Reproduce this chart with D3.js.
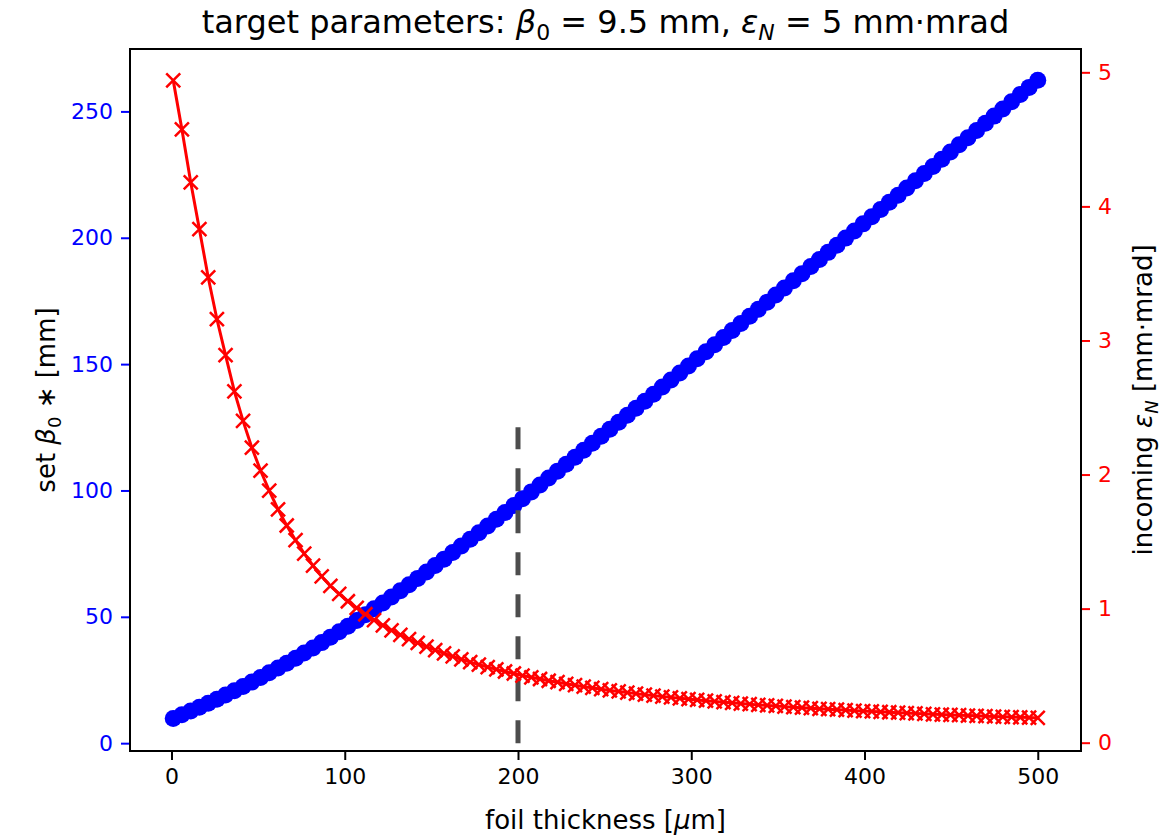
<!DOCTYPE html>
<html>
<head>
<meta charset="utf-8">
<script src="https://cdn.jsdelivr.net/npm/d3@7/dist/d3.min.js"></script>
<style>
  body { margin: 0; background: #fff; }
  svg text { font-family: "DejaVu Sans", sans-serif; }
</style>
</head>
<body>
<div id="chart"></div>
<script>
// foil thickness [um]
const thickness = [
  1.0, 6.0, 11.1, 16.1, 21.2, 26.2, 31.2, 36.3, 41.3, 46.4,
  51.4, 56.4, 61.5, 66.5, 71.6, 76.6, 81.7, 86.7, 91.7, 96.8,
  101.8, 106.9, 111.9, 116.9, 122.0, 127.0, 132.1, 137.1, 142.1, 147.2,
  152.2, 157.3, 162.3, 167.3, 172.4, 177.4, 182.5, 187.5, 192.5, 197.6,
  202.6, 207.7, 212.7, 217.7, 222.8, 227.8, 232.9, 237.9, 242.9, 248.0,
  253.0, 258.1, 263.1, 268.1, 273.2, 278.2, 283.3, 288.3, 293.4, 298.4,
  303.4, 308.5, 313.5, 318.6, 323.6, 328.6, 333.7, 338.7, 343.8, 348.8,
  353.8, 358.9, 363.9, 369.0, 374.0, 379.0, 384.1, 389.1, 394.2, 399.2,
  404.2, 409.3, 414.3, 419.4, 424.4, 429.4, 434.5, 439.5, 444.6, 449.6,
  454.6, 459.7, 464.7, 469.8, 474.8, 479.8, 484.9, 489.9, 495.0, 500.0
];

// set beta0* [mm]
const betaSet = [
  9.78, 11.22, 12.70, 14.22, 15.78, 17.39, 19.03, 20.71, 22.44, 24.20,
  26.01, 27.85, 29.74, 31.67, 33.64, 35.65, 37.70, 39.79, 41.92, 44.09,
  46.30, 48.55, 50.83, 53.15, 55.51, 57.86, 60.28, 62.73, 65.21, 67.73,
  70.27, 72.83, 75.42, 78.03, 80.65, 83.27, 85.93, 88.61, 91.30, 94.01,
  96.72, 99.44, 102.17, 104.91, 107.65, 110.40, 113.15, 115.91, 118.67, 121.44,
  124.21, 126.99, 129.76, 132.55, 135.33, 138.12, 140.90, 143.69, 146.49, 149.28,
  152.08, 154.88, 157.68, 160.49, 163.29, 166.10, 168.90, 171.71, 174.52, 177.33,
  180.14, 182.95, 185.77, 188.59, 191.40, 194.22, 197.04, 199.86, 202.68, 205.50,
  208.34, 211.18, 214.03, 216.87, 219.71, 222.55, 225.40, 228.24, 231.08, 233.92,
  236.77, 239.61, 242.45, 245.29, 248.14, 250.99, 253.83, 256.67, 259.51, 262.35
];

// incoming epsilon_N [mm mrad]
const emitIn = [
  4.940, 4.575, 4.180, 3.830, 3.470, 3.160, 2.890, 2.620, 2.400, 2.200,
  2.030, 1.880, 1.740, 1.620, 1.510, 1.410, 1.320, 1.240, 1.170, 1.110,
  1.055, 1.005, 0.958, 0.915, 0.875, 0.838, 0.805, 0.773, 0.744, 0.716,
  0.690, 0.666, 0.643, 0.622, 0.601, 0.582, 0.564, 0.547, 0.531, 0.516,
  0.501, 0.488, 0.475, 0.462, 0.451, 0.439, 0.429, 0.418, 0.409, 0.399,
  0.390, 0.382, 0.374, 0.366, 0.358, 0.351, 0.344, 0.338, 0.331, 0.325,
  0.319, 0.313, 0.308, 0.302, 0.297, 0.292, 0.287, 0.282, 0.278, 0.274,
  0.269, 0.265, 0.261, 0.257, 0.253, 0.250, 0.246, 0.243, 0.239, 0.236,
  0.233, 0.230, 0.227, 0.224, 0.221, 0.218, 0.215, 0.212, 0.210, 0.207,
  0.205, 0.202, 0.200, 0.198, 0.195, 0.193, 0.191, 0.189, 0.187, 0.185
];

const xTicks = [0, 100, 200, 300, 400, 500];
const betaTicks = [0, 50, 100, 150, 200, 250];
const emitTicks = [0, 1, 2, 3, 4, 5];

// chosen thickness marker (dashed line), in left-axis units
const cutThickness = 200;
const cutRange = [0, 125];

const width = 1170;
const height = 839;
const plot = { left: 130, right: 1081, top: 49, bottom: 751 };

const svg = d3.select('#chart')
  .append('svg')
  .attr('width', width)
  .attr('height', height);

// Scales
const x = d3.scaleLinear()
  .domain([-23.95, 524.95])
  .range([plot.left, plot.right]);

const yLeft = d3.scaleLinear()
  .domain([-3.1, 274.7])
  .range([plot.bottom, plot.top]);

const yRight = d3.scaleLinear()
  .domain([-0.062, 5.174])
  .range([plot.bottom, plot.top]);

const points = d3.zip(thickness, betaSet, emitIn);

// Blue beta markers
svg.append('g')
  .selectAll('circle')
  .data(points)
  .enter().append('circle')
  .attr('cx', d => x(d[0]))
  .attr('cy', d => yLeft(d[1]))
  .attr('r', 8.5)
  .attr('fill', '#0000ff');

// Dashed line at chosen thickness
svg.append('line')
  .attr('x1', x(cutThickness))
  .attr('x2', x(cutThickness))
  .attr('y1', yLeft(cutRange[0]))
  .attr('y2', yLeft(cutRange[1]))
  .attr('stroke', '#4d4d4d')
  .attr('stroke-width', 5)
  .attr('stroke-dasharray', '23,19');

// Red emittance line + x markers
const line = d3.line()
  .x(d => x(d[0]))
  .y(d => yRight(d[2]));

svg.append('path')
  .datum(points)
  .attr('d', line)
  .attr('fill', 'none')
  .attr('stroke', '#ff0000')
  .attr('stroke-width', 3);

svg.append('g')
  .selectAll('path')
  .data(points)
  .enter().append('path')
  .attr('transform', d => `translate(${x(d[0])},${yRight(d[2])})`)
  .attr('d', 'M-7,-7L7,7M-7,7L7,-7')
  .attr('fill', 'none')
  .attr('stroke', '#ff0000')
  .attr('stroke-width', 2.5);

// Axes
const tickFont = '22px';

const xAxis = svg.append('g')
  .attr('transform', `translate(0,${plot.bottom})`)
  .call(d3.axisBottom(x).tickValues(xTicks).tickSize(9).tickPadding(8));

const leftAxis = svg.append('g')
  .attr('transform', `translate(${plot.left},0)`)
  .call(d3.axisLeft(yLeft).tickValues(betaTicks).tickSize(9).tickPadding(8));

const rightAxis = svg.append('g')
  .attr('transform', `translate(${plot.right},0)`)
  .call(d3.axisRight(yRight).tickValues(emitTicks).tickFormat(d3.format('d')).tickSize(9).tickPadding(8));

[[xAxis, '#000'], [leftAxis, '#0000ff'], [rightAxis, '#ff0000']].forEach(([axis, color]) => {
  axis.select('.domain').remove();
  axis.selectAll('line').attr('stroke', color).attr('stroke-width', 2);
  axis.selectAll('text')
    .style('font-size', tickFont)
    .style('font-family', '"DejaVu Sans", sans-serif')
    .attr('fill', color);
});

// Frame
svg.append('rect')
  .attr('x', plot.left)
  .attr('y', plot.top)
  .attr('width', plot.right - plot.left)
  .attr('height', plot.bottom - plot.top)
  .attr('fill', 'none')
  .attr('stroke', '#000')
  .attr('stroke-width', 2);

// Title
const title = svg.append('text')
  .attr('x', (plot.left + plot.right) / 2)
  .attr('y', 33)
  .attr('text-anchor', 'middle')
  .style('font-size', '32px')
  .attr('fill', '#000');
title.append('tspan').text('target parameters: ');
title.append('tspan').attr('font-style', 'italic').text('β');
title.append('tspan').attr('font-size', '22px').attr('dy', 7).text('0');
title.append('tspan').attr('dy', -7).text(' = 9.5 mm, ');
title.append('tspan').attr('font-style', 'italic').text('ε');
title.append('tspan').attr('font-style', 'italic').attr('font-size', '22px').attr('dy', 7).text('N');
title.append('tspan').attr('dy', -7).text(' = 5 mm·mrad');

// X label
const xLabel = svg.append('text')
  .attr('x', (plot.left + plot.right) / 2)
  .attr('y', 829)
  .attr('text-anchor', 'middle')
  .style('font-size', '26px')
  .attr('fill', '#000');
xLabel.append('tspan').text('foil thickness [');
xLabel.append('tspan').attr('font-style', 'italic').text('μ');
xLabel.append('tspan').text('m]');

// Left label
const leftLabel = svg.append('text')
  .attr('transform', `translate(55,${(plot.top + plot.bottom) / 2}) rotate(-90)`)
  .attr('text-anchor', 'middle')
  .style('font-size', '26px')
  .attr('fill', '#000');
leftLabel.append('tspan').text('set ');
leftLabel.append('tspan').attr('font-style', 'italic').text('β');
leftLabel.append('tspan').attr('font-size', '18px').attr('dy', 6).text('0');
leftLabel.append('tspan').attr('dy', -6).text(' ∗ [mm]');

// Right label
const rightLabel = svg.append('text')
  .attr('transform', `translate(1152,${(plot.top + plot.bottom) / 2}) rotate(-90)`)
  .attr('text-anchor', 'middle')
  .style('font-size', '26px')
  .attr('fill', '#000');
rightLabel.append('tspan').text('incoming ');
rightLabel.append('tspan').attr('font-style', 'italic').text('ε');
rightLabel.append('tspan').attr('font-style', 'italic').attr('font-size', '18px').attr('dy', 6).text('N');
rightLabel.append('tspan').attr('dy', -6).text(' [mm·mrad]');
</script>
</body>
</html>
